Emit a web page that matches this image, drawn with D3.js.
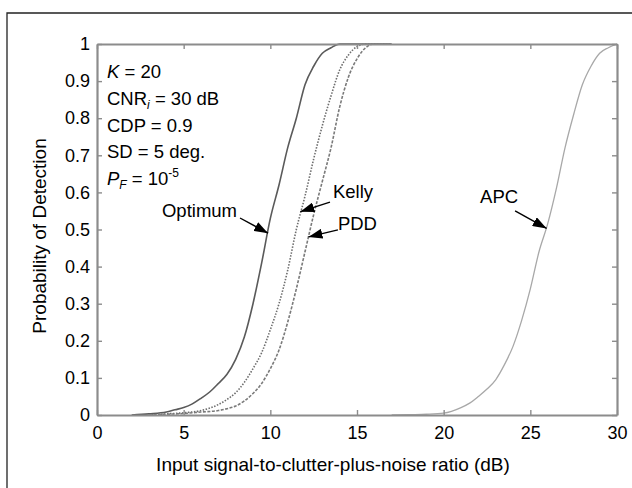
<!DOCTYPE html>
<html>
<head>
<meta charset="utf-8">
<script src="https://cdn.jsdelivr.net/npm/d3@7"></script>
<style>
  html, body { margin: 0; padding: 0; background: #fff; overflow: hidden; }
  svg { display: block; font-family: Arial, "Liberation Sans", Helvetica, sans-serif; }
</style>
</head>
<body>
<svg id="chart" width="632" height="488"></svg>
<script>
// ---- data ----
const xTicks = [0, 5, 10, 15, 20, 25, 30];
const yTicks = [0, 0.1, 0.2, 0.3, 0.4, 0.5, 0.6, 0.7, 0.8, 0.9, 1];
const yTickLabels = ["0", "0.1", "0.2", "0.3", "0.4", "0.5", "0.6", "0.7", "0.8", "0.9", "1"];

const optimumX = [2, 3, 4, 4.5, 5, 5.5, 6, 6.5, 7, 7.5, 8, 8.5, 9, 9.5, 10, 10.5, 11, 11.5, 12, 12.5, 13, 13.5, 14, 15, 17];
const optimumY = [0, 0.003, 0.008, 0.014, 0.02, 0.03, 0.045, 0.062, 0.085, 0.11, 0.15, 0.21, 0.30, 0.41, 0.53, 0.62, 0.72, 0.80, 0.89, 0.94, 0.975, 0.99, 1, 1, 1];

const kellyX = [3, 4, 5, 6, 7, 7.5, 8, 8.5, 9, 9.5, 10, 10.5, 11, 11.5, 12, 12.5, 13, 13.5, 14, 14.5, 15, 15.5, 17];
const kellyY = [0, 0.003, 0.006, 0.012, 0.028, 0.042, 0.06, 0.088, 0.125, 0.168, 0.23, 0.30, 0.39, 0.50, 0.59, 0.69, 0.78, 0.86, 0.93, 0.97, 0.993, 1, 1];

const pddX = [3, 4, 5, 6, 7, 7.5, 8, 8.5, 9, 9.5, 10, 10.5, 11, 11.5, 12, 12.5, 13, 13.5, 14, 14.5, 15, 15.5, 16, 17];
const pddY = [0, 0.002, 0.004, 0.008, 0.012, 0.017, 0.024, 0.038, 0.058, 0.085, 0.125, 0.175, 0.25, 0.34, 0.44, 0.54, 0.63, 0.72, 0.83, 0.91, 0.96, 0.99, 1, 1];

const apcX = [17, 18, 19, 20, 21, 21.5, 22, 22.5, 23, 23.5, 24, 24.5, 25, 25.5, 26, 26.5, 27, 27.5, 28, 28.5, 29, 29.5, 30];
const apcY = [0, 0.001, 0.002, 0.005, 0.02, 0.032, 0.05, 0.07, 0.095, 0.135, 0.185, 0.255, 0.34, 0.44, 0.515, 0.61, 0.72, 0.81, 0.89, 0.94, 0.975, 0.99, 1];

const seriesNames = ["Optimum", "Kelly", "PDD", "APC"];
const seriesXs = [optimumX, kellyX, pddX, apcX];
const seriesYs = [optimumY, kellyY, pddY, apcY];

// arrow annotations: tip and tail in data units
const arrowTipX = [9.87, 11.73, 12.2, 25.94];
const arrowTipY = [0.49, 0.548, 0.48, 0.503];
const arrowTailX = [8.25, 13.44, 13.9, 24.12];
const arrowTailY = [0.531, 0.574, 0.499, 0.55];

const xTitle = "Input signal-to-clutter-plus-noise ratio (dB)";
const yTitle = "Probability of Detection";

// ---- layout / styles ----
const svg = d3.select("#chart");
const L = 97, R = 617, T = 44, B = 415;
const x = d3.scaleLinear().domain([0, 30]).range([L, R]);
const y = d3.scaleLinear().domain([0, 1]).range([B, T]);

const styles = [
  { stroke: "#5a5a5a", width: 1.6, dash: null },
  { stroke: "#6e6e6e", width: 1.6, dash: "1.5,1.5" },
  { stroke: "#7a7a7a", width: 1.6, dash: "3,1.5" },
  { stroke: "#a8a8a8", width: 1.3, dash: null }
];

// outer frame (only left/top visible in the crop)
svg.append("path").attr("d", "M7,488 V13 H632")
  .attr("fill", "none").attr("stroke", "#222").attr("stroke-width", 1.3);

// defs: arrowhead
svg.append("defs").append("marker")
  .attr("id", "arrow").attr("markerUnits", "userSpaceOnUse")
  .attr("viewBox", "0 0 14 10").attr("refX", 14).attr("refY", 5)
  .attr("markerWidth", 14).attr("markerHeight", 10).attr("orient", "auto")
  .append("path").attr("d", "M0,0 L14,5 L0,10 Z").attr("fill", "#000");

// curves
const line = d3.line().x(d => x(d[0])).y(d => y(d[1])).curve(d3.curveMonotoneX);
seriesNames.forEach((name, i) => {
  const pts = seriesXs[i].map((v, j) => [v, seriesYs[i][j]]);
  svg.append("path").datum(pts)
    .attr("d", line)
    .attr("fill", "none")
    .attr("stroke", styles[i].stroke)
    .attr("stroke-width", styles[i].width)
    .attr("stroke-dasharray", styles[i].dash);
});

// axes (MATLAB style: inward ticks on all sides)
const axisColor = "#8c8c8c";
const gB = svg.append("g").attr("transform", `translate(0,${B})`)
  .call(d3.axisBottom(x).tickValues(xTicks).tickSizeInner(-5).tickSizeOuter(0).tickPadding(11));
const gT = svg.append("g").attr("transform", `translate(0,${T})`)
  .call(d3.axisTop(x).tickValues(xTicks).tickSizeInner(-5).tickSizeOuter(0).tickFormat(""));
const gL = svg.append("g").attr("transform", `translate(${L},0)`)
  .call(d3.axisLeft(y).tickValues(yTicks).tickSizeInner(-5).tickSizeOuter(0).tickPadding(7)
    .tickFormat((d, i) => yTickLabels[i]));
const gR = svg.append("g").attr("transform", `translate(${R},0)`)
  .call(d3.axisRight(y).tickValues(yTicks).tickSizeInner(-5).tickSizeOuter(0).tickFormat(""));
[gB, gT, gL, gR].forEach(g => {
  g.select(".domain").attr("stroke", axisColor).attr("stroke-width", 2.2);
  g.selectAll(".tick line").attr("stroke", axisColor).attr("stroke-width", 1.4);
  g.selectAll("text").attr("fill", "#000").attr("font-size", 18)
    .attr("font-family", "Arial, 'Liberation Sans', sans-serif");
});
gB.selectAll("text").attr("dy", "0.71em");

// axis titles
svg.append("text").attr("x", 333).attr("y", 471).attr("text-anchor", "middle")
  .attr("font-size", 19).attr("fill", "#000").text(xTitle);
svg.append("text").attr("transform", "translate(46,236) rotate(-90)").attr("text-anchor", "middle")
  .attr("font-size", 19).attr("fill", "#000").text(yTitle);

// parameter block
const info = svg.append("g").attr("font-size", 18.5).attr("fill", "#000");
const ix = 107, baselines = [78, 105, 132, 158, 185];
let t = info.append("text").attr("x", ix).attr("y", baselines[0]);
t.append("tspan").attr("font-style", "italic").text("K");
t.append("tspan").text(" = 20");
t = info.append("text").attr("x", ix).attr("y", baselines[1]);
t.append("tspan").text("CNR");
t.append("tspan").attr("font-style", "italic").attr("font-size", 12).attr("dy", 4).text("i");
t.append("tspan").attr("dy", -4).text(" = 30 dB");
info.append("text").attr("x", ix).attr("y", baselines[2]).text("CDP = 0.9");
info.append("text").attr("x", ix).attr("y", baselines[3]).text("SD = 5 deg.");
t = info.append("text").attr("x", ix).attr("y", baselines[4]);
t.append("tspan").attr("font-style", "italic").text("P");
t.append("tspan").attr("font-style", "italic").attr("font-size", 12).attr("dy", 4).text("F");
t.append("tspan").attr("dy", -4).text(" = 10");
t.append("tspan").attr("font-size", 12).attr("dy", -8).text("-5");

// arrows
seriesNames.forEach((name, i) => {
  svg.append("line")
    .attr("x1", x(arrowTailX[i])).attr("y1", y(arrowTailY[i]))
    .attr("x2", x(arrowTipX[i])).attr("y2", y(arrowTipY[i]))
    .attr("stroke", "#000").attr("stroke-width", 1.4)
    .attr("marker-end", "url(#arrow)");
});

// labels
const labelAnchor = ["end", "start", "start", "start"];
const labelDX = [-3, 3, 0, -35];
const labelDY = [-1, -4, 0, -8];
seriesNames.forEach((name, i) => {
  svg.append("text")
    .attr("x", x(arrowTailX[i]) + labelDX[i]).attr("y", y(arrowTailY[i]) + labelDY[i])
    .attr("text-anchor", labelAnchor[i]).attr("font-size", 18.5).attr("fill", "#000")
    .text(name);
});
</script>
</body>
</html>
